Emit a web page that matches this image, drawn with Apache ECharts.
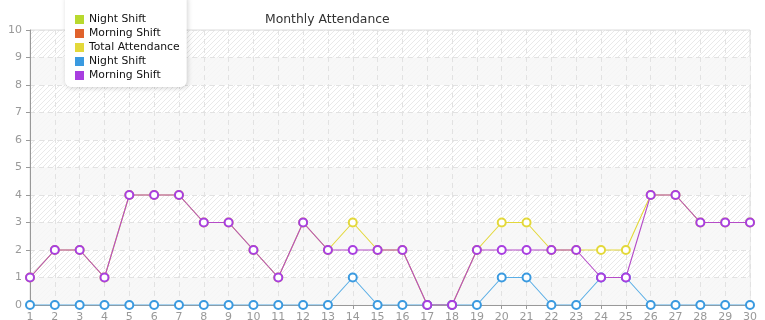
<!DOCTYPE html>
<html><head><meta charset="utf-8">
<script src="https://cdn.jsdelivr.net/npm/echarts@6/dist/echarts.min.js"></script>
<style>html,body{margin:0;padding:0;background:#fff}#c{width:765px;height:320px}</style>
</head><body><div id="c"></div>
<script>
const days = ['1','2','3','4','5','6','7','8','9','10','11','12','13','14','15','16','17','18','19','20','21','22','23','24','25','26','27','28','29','30'];
const yTicks = [0,1,2,3,4,5,6,7,8,9,10];
const nightShiftA = [];
const morningShiftA = [];
const totalAttendance = [1,2,2,1,4,4,4,3,3,2,1,3,2,3,2,2,0,0,2,3,3,2,2,2,2,4,4,3,3,3];
const nightShift = [0,0,0,0,0,0,0,0,0,0,0,0,0,1,0,0,0,0,0,1,1,0,0,1,1,0,0,0,0,0];
const morningShift = [1,2,2,1,4,4,4,3,3,2,1,3,2,2,2,2,0,0,2,2,2,2,2,1,1,4,4,3,3,3];

const cv = document.createElement('canvas');
cv.width = 5; cv.height = 5;
const cx = cv.getContext('2d');
cx.fillStyle = '#ffffff'; cx.fillRect(0,0,5,5);
cx.strokeStyle = '#e9e9e9'; cx.lineWidth = 1;
cx.beginPath(); cx.moveTo(0,5); cx.lineTo(5,0); cx.moveTo(-2.5,2.5); cx.lineTo(2.5,-2.5); cx.moveTo(2.5,7.5); cx.lineTo(7.5,2.5); cx.stroke();

const font = 'DejaVu Sans';
function mk(name, color, data, lineColor, z) {
  return {
    name, type: 'line', data, z,
    symbol: 'emptyCircle', symbolSize: 8,
    itemStyle: { color: color, borderColor: color, borderWidth: 1 },
    lineStyle: { color: lineColor || color, width: 1.1 },
    emphasis: { disabled: true }
  };
}
const chart = echarts.init(document.getElementById('c'));
chart.setOption({
  animation: false,
  title: { text: 'Monthly Attendance', left: 260, top: 9, textStyle: { fontFamily: font, fontSize: 12.4, fontWeight: 'normal', color: '#333' } },
  legend: {
    orient: 'vertical', left: 65, top: -6,
    padding: [20, 7, 6, 10],
    itemGap: 3, itemWidth: 7, itemHeight: 7, icon: 'rect',
    backgroundColor: '#fff', borderRadius: 6,
    shadowColor: 'rgba(0,0,0,0.18)', shadowBlur: 5, shadowOffsetX: 1, shadowOffsetY: 1,
    textStyle: { fontFamily: font, fontSize: 10.8, color: '#111', padding: [0,0,0,1] },
    selectedMode: false
  },
  grid: { left: 30, right: 15, top: 30, bottom: 15, outerBoundsMode: 'none', show: true, borderColor: '#dcdcdc', borderWidth: 1,
    backgroundColor: { image: cv, repeat: 'repeat' } },
  xAxis: {
    type: 'category', data: days, boundaryGap: false,
    axisLine: { lineStyle: { color: '#999' } },
    axisTick: { show: true, length: 4, lineStyle: { color: '#999' }, alignWithLabel: true },
    axisLabel: { color: '#999', fontFamily: font, fontSize: 11, margin: 7, interval: 0 },
    splitLine: { show: true, lineStyle: { color: '#e2e2e2', type: [5, 4] } }
  },
  yAxis: {
    type: 'value', min: yTicks[0], max: yTicks[yTicks.length-1], interval: 1,
    axisLine: { show: true, lineStyle: { color: '#999' } },
    axisTick: { show: true, length: 4, lineStyle: { color: '#999' } },
    axisLabel: { color: '#999', fontFamily: font, fontSize: 11, margin: 8 },
    splitLine: { show: true, lineStyle: { color: '#e2e2e2', type: [5, 4] } },
    splitArea: { show: true, areaStyle: { color: ['rgba(247,247,247,0.85)', 'rgba(255,255,255,0)'] } }
  },
  series: [
    mk('Night Shift', '#b8d92e', nightShiftA, null, 1),
    mk('Morning Shift', '#e0622c', morningShiftA, null, 2),
    mk('Total Attendance', '#e3d83a', totalAttendance, null, 3),
    mk('Night Shift\u200b', '#3a9ae0', nightShift, '#5aaee6', 4),
    mk('Morning Shift\u200b', '#a83ee0', morningShift, '#b54cc8', 5)
  ]
});
</script></body></html>
